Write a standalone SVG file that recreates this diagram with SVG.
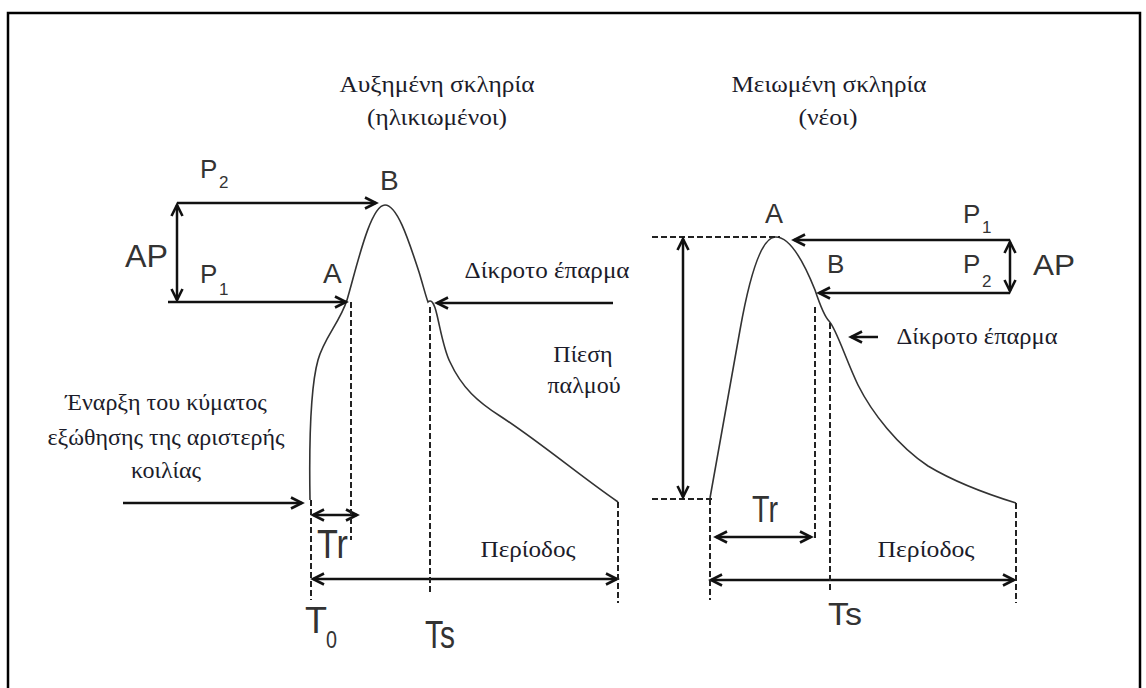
<svg xmlns="http://www.w3.org/2000/svg" width="1146" height="688" viewBox="0 0 1146 688">
<defs>
<marker id="ah" markerUnits="userSpaceOnUse" markerWidth="16" markerHeight="14" refX="13" refY="7" orient="auto-start-reverse">
<path d="M2,1.5 L13,7 L2,12.5" fill="none" stroke="#111" stroke-width="2.6" stroke-linejoin="miter"/>
</marker>
</defs>
<style>
.ser{font-family:"Liberation Serif","DejaVu Serif",serif;fill:#1c1c2a;font-size:24px}
.sans{font-family:"Liberation Sans",Arial,sans-serif;fill:#333}
.arr{stroke:#111;stroke-width:2.5;fill:none}
.dash{stroke:#222;stroke-width:2;stroke-dasharray:6 3;fill:none}
.wave{stroke:#333;stroke-width:1.6;fill:none}
</style>
<rect width="1146" height="688" fill="#fff"/>
<path d="M8,688 V13 H1140 V688" fill="none" stroke="#000" stroke-width="2.5"/>

<g id="titles">
<text class="ser" x="437" y="92" text-anchor="middle" textLength="195" lengthAdjust="spacingAndGlyphs">Αυξημένη σκληρία</text>
<text class="ser" x="437" y="125" text-anchor="middle" textLength="140" lengthAdjust="spacingAndGlyphs">(ηλικιωμένοι)</text>
<text class="ser" x="829" y="92" text-anchor="middle" textLength="195" lengthAdjust="spacingAndGlyphs">Μειωμένη σκληρία</text>
<text class="ser" x="828" y="125" text-anchor="middle" textLength="59" lengthAdjust="spacingAndGlyphs">(νέοι)</text>
</g>

<g id="left-wave">
<path class="wave" d="M310,500 C309,440 311,385 318,360 C324,338 340,322 347,300 C356,270 370,205 385,205 C398,205 410,245 419,272 C423,285 426,297 428,302 C431,299 434,302 437,315 C441,332 444,350 450,362 C462,388 478,402 500,416 C540,442 580,476 618,502"/>
</g>
<g id="right-wave">
<path class="wave" d="M710,498 L740,330 C748,285 760,238 775,237 C790,236 805,265 815,290 C820,305 824,316 829,321 C836,328 846,360 858,385 C872,413 898,446 928,466 C958,484 990,495 1016,503"/>
</g>

<g id="connectors">
<line class="arr" x1="177" y1="203" x2="376" y2="203" marker-end="url(#ah)"/>
<line class="arr" x1="177" y1="205" x2="177" y2="300" marker-start="url(#ah)" marker-end="url(#ah)"/>
<line class="arr" x1="168" y1="302" x2="346" y2="302" marker-end="url(#ah)"/>
<line class="arr" x1="613" y1="303" x2="437" y2="303" marker-end="url(#ah)"/>
<line class="arr" x1="123" y1="503" x2="302" y2="503" marker-end="url(#ah)"/>
<line class="arr" x1="313" y1="515" x2="357" y2="515" marker-start="url(#ah)" marker-end="url(#ah)"/>
<line class="arr" x1="313" y1="579" x2="617" y2="579" marker-start="url(#ah)" marker-end="url(#ah)"/>
<line class="dash" x1="311" y1="500" x2="311" y2="600"/>
<line class="dash" x1="351" y1="302" x2="351" y2="540"/>
<line class="dash" x1="430" y1="307" x2="430" y2="595"/>
<line class="dash" x1="618" y1="502" x2="618" y2="603"/>
<line class="dash" x1="652" y1="237" x2="780" y2="237"/>
<line class="dash" x1="652" y1="499" x2="712" y2="499"/>
<line class="arr" x1="683" y1="239" x2="683" y2="497" marker-start="url(#ah)" marker-end="url(#ah)"/>
<line class="arr" x1="1010" y1="240" x2="794" y2="240" marker-end="url(#ah)"/>
<line class="arr" x1="1010" y1="293" x2="819" y2="293" marker-end="url(#ah)"/>
<line class="arr" x1="1010" y1="242" x2="1010" y2="291" marker-start="url(#ah)" marker-end="url(#ah)"/>
<line class="arr" x1="878" y1="337" x2="851" y2="337" marker-end="url(#ah)"/>
<line class="arr" x1="716" y1="537" x2="811" y2="537" marker-start="url(#ah)" marker-end="url(#ah)"/>
<line class="arr" x1="711" y1="580" x2="1014" y2="580" marker-start="url(#ah)" marker-end="url(#ah)"/>
<line class="dash" x1="710" y1="499" x2="710" y2="600"/>
<line class="dash" x1="815" y1="307" x2="815" y2="538"/>
<line class="dash" x1="830" y1="323" x2="830" y2="590"/>
<line class="dash" x1="1016" y1="503" x2="1016" y2="603"/>
</g>

<g id="left-labels">
<text class="sans" x="200" y="178" font-size="26">P</text>
<text class="sans" x="219" y="188" font-size="17">2</text>
<text class="sans" x="380" y="190" font-size="28">B</text>
<text class="sans" x="125" y="267" font-size="32" textLength="43" lengthAdjust="spacingAndGlyphs">AP</text>
<text class="sans" x="200" y="283" font-size="26">P</text>
<text class="sans" x="219" y="295" font-size="17">1</text>
<text class="sans" x="323" y="283" font-size="28">A</text>
<text class="sans" x="317" y="558" font-size="40" textLength="31" lengthAdjust="spacingAndGlyphs">Tr</text>
<text class="sans" x="305" y="633" font-size="36" textLength="22" lengthAdjust="spacingAndGlyphs">T</text>
<text class="sans" x="326" y="648" font-size="24" textLength="11" lengthAdjust="spacingAndGlyphs">0</text>
<text class="sans" x="425" y="648" font-size="38" textLength="30" lengthAdjust="spacingAndGlyphs">Ts</text>
<text class="ser" x="547" y="278" text-anchor="middle" textLength="165" lengthAdjust="spacingAndGlyphs">Δίκροτο έπαρμα</text>
<text class="ser" x="583" y="362" text-anchor="middle">Πίεση</text>
<text class="ser" x="584" y="393" text-anchor="middle">παλμού</text>
<text class="ser" x="528" y="557" text-anchor="middle" textLength="95" lengthAdjust="spacingAndGlyphs">Περίοδος</text>
<text class="ser" x="166" y="410" text-anchor="middle">Έναρξη του κύματος</text>
<text class="ser" x="166" y="445" text-anchor="middle">εξώθησης της αριστερής</text>
<text class="ser" x="166" y="478" text-anchor="middle">κοιλίας</text>
</g>

<g id="right-labels">
<text class="sans" x="774" y="223" font-size="27" text-anchor="middle">A</text>
<text class="sans" x="963" y="223" font-size="26">P</text>
<text class="sans" x="982" y="233" font-size="17">1</text>
<text class="sans" x="827" y="273" font-size="26">B</text>
<text class="sans" x="963" y="273" font-size="26">P</text>
<text class="sans" x="982" y="287" font-size="17">2</text>
<text class="sans" x="1033" y="275" font-size="29" textLength="42" lengthAdjust="spacingAndGlyphs">AP</text>
<text class="sans" x="752" y="522" font-size="36" textLength="26" lengthAdjust="spacingAndGlyphs">Tr</text>
<text class="sans" x="828" y="625" font-size="32" textLength="34" lengthAdjust="spacingAndGlyphs">Ts</text>
<text class="ser" x="977" y="344" text-anchor="middle" textLength="161" lengthAdjust="spacingAndGlyphs">Δίκροτο έπαρμα</text>
<text class="ser" x="926" y="557" text-anchor="middle" textLength="97" lengthAdjust="spacingAndGlyphs">Περίοδος</text>
</g>
</svg>
